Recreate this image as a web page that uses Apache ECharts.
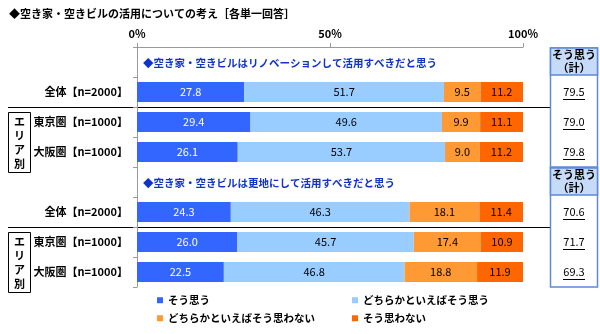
<!DOCTYPE html>
<html><head><meta charset="utf-8">
<script src="https://cdn.jsdelivr.net/npm/echarts@6/dist/echarts.min.js"></script>
<style>html,body{margin:0;padding:0;background:#fff}#c{width:600px;height:334px}</style>
</head><body><div id="c"></div>
<script>
var titleText = '◆空き家・空きビルの活用についての考え［各単一回答］';
var rowLabels = ['', '全体【n=2000】', '東京圏【n=1000】', '大阪圏【n=1000】', '', '全体【n=2000】', '東京圏【n=1000】', '大阪圏【n=1000】'];
var headers = ['◆空き家・空きビルはリノベーションして活用すべきだと思う', '◆空き家・空きビルは更地にして活用すべきだと思う'];
var seriesNames = ['そう思う', 'どちらかといえばそう思う', 'どちらかといえばそう思わない', 'そう思わない'];
var s1 = ['-', 27.8, 29.4, 26.1, '-', 24.3, 26.0, 22.5];
var s2 = ['-', 51.7, 49.6, 53.7, '-', 46.3, 45.7, 46.8];
var s3 = ['-', 9.5, 9.9, 9.0, '-', 18.1, 17.4, 18.8];
var s4 = ['-', 11.2, 11.1, 11.2, '-', 11.4, 10.9, 11.9];
var totals = [null, '79.5', '79.0', '79.8', null, '70.6', '71.7', '69.3'];
var tableHeader = 'そう思う\n（計）';
var areaLabel = 'エ\nリ\nア\n別';

var FONT = '"Noto Sans CJK JP", "Liberation Sans", sans-serif';
var colors = ['#3366FF', '#99CCFF', '#FF9933', '#FF6600'];
var labelColors = ['#ffffff', '#000000', '#000000', '#000000'];
var allData = [s1, s2, s3, s4];

var chart = echarts.init(document.getElementById('c'), null, {renderer: 'canvas'});
var idx = rowLabels.map(function (_, i) { return String(i); });

var series = allData.map(function (d, k) {
  return {
    name: seriesNames[k], type: 'bar', stack: 'all', data: d, barWidth: 20,
    itemStyle: {color: colors[k]},
    label: {show: true, position: 'inside', color: labelColors[k], fontSize: 11,
      fontFamily: FONT, formatter: function (p) { return Number(p.value).toFixed(1); }},
    emphasis: {disabled: true}, animation: false
  };
});

var legends = [
  {name: seriesNames[0], left: 157, top: 295},
  {name: seriesNames[1], left: 352, top: 295},
  {name: seriesNames[2], left: 157, top: 313},
  {name: seriesNames[3], left: 352, top: 313}
].map(function (l) {
  return {data: [l.name], left: l.left, top: l.top, icon: 'rect', itemWidth: 6, itemHeight: 6,
    itemGap: 4, padding: 0, selectedMode: false,
    textStyle: {fontSize: 10.5, fontWeight: 'bold', color: '#000', fontFamily: FONT}};
});

chart.setOption({
  animation: false,
  backgroundColor: '#fff',
  title: {text: titleText, left: 4, top: 3, textStyle: {fontSize: 11, fontWeight: 'bold', color: '#000', fontFamily: FONT}},
  legend: legends,
  grid: {left: 137, right: 77, top: 47, bottom: 47},
  xAxis: {type: 'value', position: 'top', min: 0, max: 100, interval: 50,
    axisLine: {show: true, lineStyle: {color: '#999'}},
    axisTick: {show: true, length: 4, lineStyle: {color: '#999'}},
    splitLine: {show: false},
    axisLabel: {formatter: '{value}%', fontSize: 11, color: '#000', fontWeight: 'bold', fontFamily: FONT, margin: 8}},
  yAxis: {type: 'category', inverse: true, data: idx,
    axisLine: {show: true, lineStyle: {color: '#999'}},
    axisTick: {show: true, length: 4, lineStyle: {color: '#999'}},
    axisLabel: {formatter: function (v) { return rowLabels[+v]; }, fontSize: 11, fontWeight: 'bold', color: '#000', fontFamily: FONT, margin: 9}},
  series: series
});

function yOf(i) { return chart.convertToPixel({yAxisIndex: 0}, i); }
var x0 = chart.convertToPixel({xAxisIndex: 0}, 0);
var g = [];
[0, 4].forEach(function (r, k) {
  g.push({type: 'text', x: x0 + 6, y: yOf(r) + 1, style: {text: headers[k], font: 'bold 10.5px ' + FONT, fill: '#1133CC', verticalAlign: 'middle'}});
});
[1, 5].forEach(function (r) {
  var y = Math.round((yOf(r) + yOf(r + 1)) / 2) + 0.5;
  g.push({type: 'line', shape: {x1: 8, y1: y, x2: 598, y2: y}, style: {stroke: '#000', lineWidth: 1}});
});
[2, 6].forEach(function (r) {
  var top = Math.round(yOf(r) - 10) + 0.5, bot = Math.round(yOf(r + 1) + 20) + 0.5;
  g.push({type: 'rect', z: 10, shape: {x: 8.5, y: top, width: 22, height: bot - top}, style: {fill: '#fff', stroke: '#000', lineWidth: 1}});
  g.push({type: 'text', z: 11, x: 19.5, y: (top + bot) / 2, style: {text: areaLabel, font: 'bold 11px ' + FONT, fill: '#000', align: 'center', verticalAlign: 'middle', lineHeight: 14}});
});
[0, 4].forEach(function (r) {
  var cy = yOf(r);
  var hTop = cy - 14, hBot = cy + 13;
  var vBot = yOf(r + 3) + 15;
  g.push({type: 'rect', shape: {x: 550.5, y: hTop, width: 47, height: vBot - hTop}, style: {fill: '#fff', stroke: '#5B8BD9', lineWidth: 1.5}});
  g.push({type: 'rect', shape: {x: 550.5, y: hTop, width: 47, height: hBot - hTop}, style: {fill: '#C6DBF7', stroke: '#5B8BD9', lineWidth: 1.5}});
  g.push({type: 'text', x: 574, y: (hTop + hBot) / 2, style: {text: tableHeader, font: 'bold 11px ' + FONT, fill: '#000', align: 'center', verticalAlign: 'middle', lineHeight: 13}});
  for (var j = r + 1; j <= r + 3; j++) {
    var y = yOf(j);
    g.push({type: 'text', x: 574, y: y, style: {text: totals[j], font: '11px ' + FONT, fill: '#000', align: 'center', verticalAlign: 'middle'}});
    g.push({type: 'line', shape: {x1: 563, y1: Math.round(y) + 7.5, x2: 585, y2: Math.round(y) + 7.5}, style: {stroke: '#000', lineWidth: 1}});
  }
});
chart.setOption({graphic: g});
</script></body></html>
